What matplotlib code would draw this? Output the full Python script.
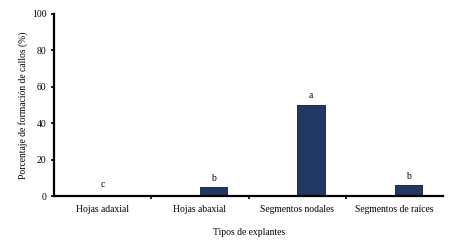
import numpy as np
import matplotlib.pyplot as plt

plt.rcParams['font.family'] = ['Liberation Serif', 'DejaVu Serif']

# data
categorias = ['Hojas adaxial', 'Hojas abaxial', 'Segmentos nodales', 'Segmentos de raíces']
valores = [0, 5, 50, 6]
letras = ['c', 'b', 'a', 'b']

x = np.arange(len(categorias))
bar_w = 0.28
fs = 6.9

fig = plt.figure(figsize=(4.5, 2.47), dpi=100)
ax = fig.add_axes([0.12, 0.205, 0.865, 0.74])

bars = ax.bar(x, valores, width=bar_w, align='edge', color='#1F3864',
              edgecolor='#0d1a33', linewidth=0.6)

# letras de significancia
for i, (v, l) in enumerate(zip(valores, letras)):
    if v == 0:
        ax.text(x[i], v + 4, l, ha='center', va='bottom', fontsize=fs)
    else:
        ax.text(x[i] + bar_w / 2, v + 2.5, l, ha='center', va='bottom', fontsize=fs)

ax.set_xlim(-0.5, len(categorias) - 0.5)
ax.set_ylim(0, 100)
ax.set_yticks(range(0, 101, 20))
ax.set_xticks(x)
ax.set_xticklabels(categorias, fontsize=fs)
ax.set_xticks(np.arange(0.5, len(categorias) - 0.5, 1), minor=True)
ax.tick_params(axis='x', which='major', length=0, pad=6)
ax.tick_params(axis='x', which='minor', length=2.5, width=1.2, direction='out')
ax.tick_params(axis='y', labelsize=fs, length=2.5, width=1.2, pad=3)

for s in ['top', 'right']:
    ax.spines[s].set_visible(False)
for s in ['left', 'bottom']:
    ax.spines[s].set_linewidth(1.6)

ax.set_xlabel('Tipos de explantes', fontsize=fs, labelpad=10)
ax.set_ylabel('Porcentaje de formación de callos (%)', fontsize=fs, labelpad=3)

fig.savefig('out.png', dpi=100)
